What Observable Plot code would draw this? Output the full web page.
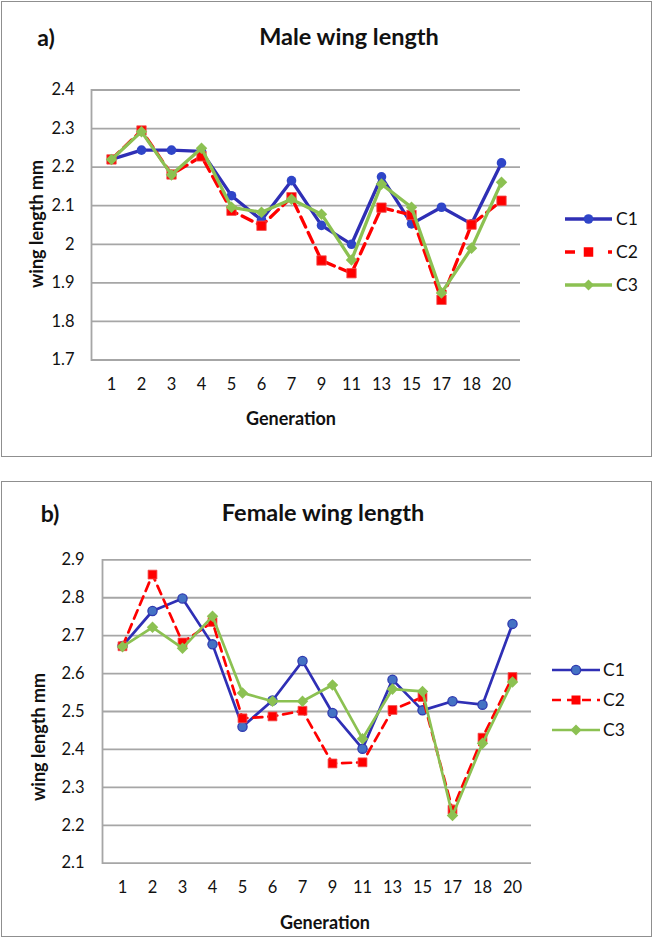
<!DOCTYPE html>
<html>
<head>
<meta charset="utf-8">
<script src="https://cdn.jsdelivr.net/npm/d3@7"></script>
<script src="https://cdn.jsdelivr.net/npm/@observablehq/plot@0.6"></script>
<style>
  html, body { margin: 0; padding: 0; background: #fff; }
  body { font-family: Lato, "Open Sans", sans-serif; color: #111; }
  #root { position: relative; width: 653px; height: 938px; overflow: hidden; }
  .box { position: absolute; border: 1.5px solid #8f8f8f; box-sizing: border-box; }
  .txt { position: absolute; white-space: nowrap; transform: translate(-50%, -50%); line-height: 1; }
  .abs { position: absolute; }
</style>
</head>
<body>
<div id="root"></div>
<script>
// ---------- data ----------
const generations = ["1","2","3","4","5","6","7","9","11","13","15","17","18","20"];
const seriesNames = ["C1","C2","C3"];

const maleC1 = [2.220, 2.244, 2.244, 2.241, 2.126, 2.063, 2.165, 2.049, 2.000, 2.175, 2.053, 2.096, 2.053, 2.211];
const maleC2 = [2.220, 2.295, 2.181, 2.228, 2.087, 2.048, 2.122, 1.958, 1.925, 2.095, 2.076, 1.856, 2.051, 2.113];
const maleC3 = [2.220, 2.292, 2.180, 2.249, 2.096, 2.083, 2.117, 2.078, 1.959, 2.156, 2.096, 1.874, 1.990, 2.161];

const femaleC1 = [2.673, 2.765, 2.798, 2.677, 2.460, 2.529, 2.633, 2.496, 2.402, 2.584, 2.503, 2.527, 2.518, 2.731];
const femaleC2 = [2.672, 2.861, 2.682, 2.736, 2.482, 2.487, 2.502, 2.363, 2.366, 2.504, 2.538, 2.241, 2.431, 2.591];
const femaleC3 = [2.671, 2.722, 2.667, 2.751, 2.549, 2.527, 2.527, 2.570, 2.428, 2.559, 2.553, 2.226, 2.416, 2.578];

const maleTicks = [1.7, 1.8, 1.9, 2.0, 2.1, 2.2, 2.3, 2.4];
const femaleTicks = [2.1, 2.2, 2.3, 2.4, 2.5, 2.6, 2.7, 2.8, 2.9];

// ---------- styles ----------
const BLUE = "#2f2fb5";
const RED = "#ff0000";
const GREEN = "#8cc152";
const FONT = "Lato, 'Open Sans', sans-serif";

function rows(values, name) {
  return generations.map((g, i) => ({gen: g, value: values[i], series: name}));
}

const root = document.getElementById("root");

function addText(txt, x, y, size, bold, rotate) {
  const d = document.createElement("div");
  d.className = "txt";
  d.textContent = txt;
  d.style.left = x + "px";
  d.style.top = y + "px";
  d.style.fontSize = size + "px";
  d.style.fontWeight = bold ? "700" : "400";
  if (rotate) d.style.transform = "translate(-50%, -50%) rotate(-90deg)";
  root.appendChild(d);
}

function addBox(left, top, w, h) {
  const d = document.createElement("div");
  d.className = "box";
  Object.assign(d.style, {left: left + "px", top: top + "px", width: w + "px", height: h + "px"});
  root.appendChild(d);
}

function panel(cfg) {
  const {svgTop, svgH, plotL, plotR, plotT, plotB, ticks, c1, c2, c3, lw, dotR, sqR, diaR, c1Fill, c1Stroke, dash, yPad, xPad} = cfg;
  const d1 = rows(c1, "C1"), d2 = rows(c2, "C2"), d3r = rows(c3, "C3");
  const chart = Plot.plot({
    width: 653,
    height: svgH,
    marginLeft: plotL,
    marginRight: 653 - plotR,
    marginTop: plotT - svgTop,
    marginBottom: svgTop + svgH - plotB,
    style: {fontFamily: FONT, fontSize: "16.5px", color: "#111", background: "transparent", overflow: "visible"},
    x: {type: "point", domain: generations, padding: 0.5, label: null},
    y: {domain: [ticks[0], ticks[ticks.length - 1]], label: null},
    marks: [
      Plot.gridY(ticks, {stroke: "#a6a6a6", strokeOpacity: 1, strokeWidth: 1.8}),
      Plot.frame({anchor: "left", stroke: "#a6a6a6", strokeWidth: 1.8}),
      Plot.axisY(ticks, {tickSize: 0, tickPadding: yPad, tickFormat: d3.format(".1~f"), label: null, fontSize: 16.5}),
      Plot.axisX({tickSize: 0, tickPadding: xPad, label: null, fontSize: 16.5}),
      Plot.line(d1, {x: "gen", y: "value", stroke: BLUE, strokeWidth: lw}),
      Plot.dot(d1, {x: "gen", y: "value", symbol: "circle", r: dotR, fill: c1Fill, stroke: c1Stroke, strokeWidth: c1Stroke === "none" ? 0 : 1.3}),
      Plot.line(d2, {x: "gen", y: "value", stroke: RED, strokeWidth: lw, strokeDasharray: dash}),
      Plot.dot(d2, {x: "gen", y: "value", symbol: "square", r: sqR, fill: RED, stroke: "#f05050", strokeWidth: 0.8}),
      Plot.line(d3r, {x: "gen", y: "value", stroke: GREEN, strokeWidth: lw}),
      Plot.dot(d3r, {x: "gen", y: "value", symbol: "diamond2", r: diaR, fill: GREEN, stroke: "none"})
    ]
  });
  chart.classList.add("abs");
  chart.style.left = "0px";
  chart.style.top = svgTop + "px";
  root.appendChild(chart);
}

function legend(cfg) {
  const {x0, x1, ys, labelX, lw, dotR, c1Fill, c1Stroke, dash, sq, dia} = cfg;
  const svg = d3.select(root).append("svg")
    .attr("class", "abs")
    .attr("width", 653).attr("height", 938)
    .style("left", "0px").style("top", "0px")
    .style("pointer-events", "none");
  const mid = (x0 + x1) / 2;
  const styles = [
    {color: BLUE, dash: null},
    {color: RED, dash: dash},
    {color: GREEN, dash: null}
  ];
  seriesNames.forEach((name, i) => {
    const y = ys[i];
    const st = styles[i];
    const ln = svg.append("line").attr("x1", x0).attr("x2", x1).attr("y1", y).attr("y2", y)
      .attr("stroke", st.color).attr("stroke-width", lw);
    if (st.dash) ln.attr("stroke-dasharray", st.dash);
    if (i === 0) {
      svg.append("circle").attr("cx", mid).attr("cy", y).attr("r", dotR)
        .attr("fill", c1Fill).attr("stroke", c1Stroke === "none" ? null : c1Stroke).attr("stroke-width", 1.3);
    } else if (i === 1) {
      svg.append("rect").attr("x", mid - sq / 2).attr("y", y - sq / 2).attr("width", sq).attr("height", sq).attr("fill", RED);
    } else {
      svg.append("path").attr("d", `M${mid},${y - dia}L${mid + dia},${y}L${mid},${y + dia}L${mid - dia},${y}Z`).attr("fill", GREEN);
    }
    svg.append("text").attr("x", labelX).attr("y", y).attr("dy", "0.36em")
      .attr("font-family", FONT).attr("font-size", 17.5).attr("fill", "#111").text(name);
  });
}

// ---------- panel a ----------
addBox(1, 1, 651, 456);
panel({svgTop: 0, svgH: 458, plotL: 91, plotR: 520, plotT: 89.5, plotB: 359.5,
  ticks: maleTicks, c1: maleC1, c2: maleC2, c3: maleC3,
  lw: 3.3, dotR: 4.8, sqR: 5.3, diaR: 5.2, c1Fill: "#2f45c8", c1Stroke: "none", dash: "11,6", yPad: 17, xPad: 18});
addText("a)", 46, 37, 23, true);
addText("Male wing length", 349, 37, 23.5, true);
addText("Generation", 291, 418, 18, true);
addText("wing length mm", 36, 224, 18, true, true);
legend({x0: 565, x1: 612, ys: [219, 252, 285], labelX: 616, lw: 3.3, dotR: 4.8, c1Fill: "#2f45c8", c1Stroke: "none", dash: "10,9,4,20", sq: 9.5, dia: 5.5});

// ---------- panel b ----------
addBox(1, 481, 651, 456);
panel({svgTop: 470, svgH: 468, plotL: 102, plotR: 531, plotT: 559.3, plotB: 862.7,
  ticks: femaleTicks, c1: femaleC1, c2: femaleC2, c3: femaleC3,
  lw: 2.7, dotR: 4.6, sqR: 5.0, diaR: 5.2, c1Fill: "#4472c4", c1Stroke: "#2f3ab0", dash: "9,6", yPad: 18, xPad: 18});
addText("b)", 50, 513, 23, true);
addText("Female wing length", 323, 513, 23.5, true);
addText("Generation", 325, 922, 18, true);
addText("wing length mm", 38, 737, 18, true, true);
legend({x0: 552, x1: 600, ys: [670, 700, 730], labelX: 603, lw: 2.7, dotR: 4.6, c1Fill: "#4472c4", c1Stroke: "#2f3ab0", dash: "9,6", sq: 9, dia: 5.5});
</script>
</body>
</html>
